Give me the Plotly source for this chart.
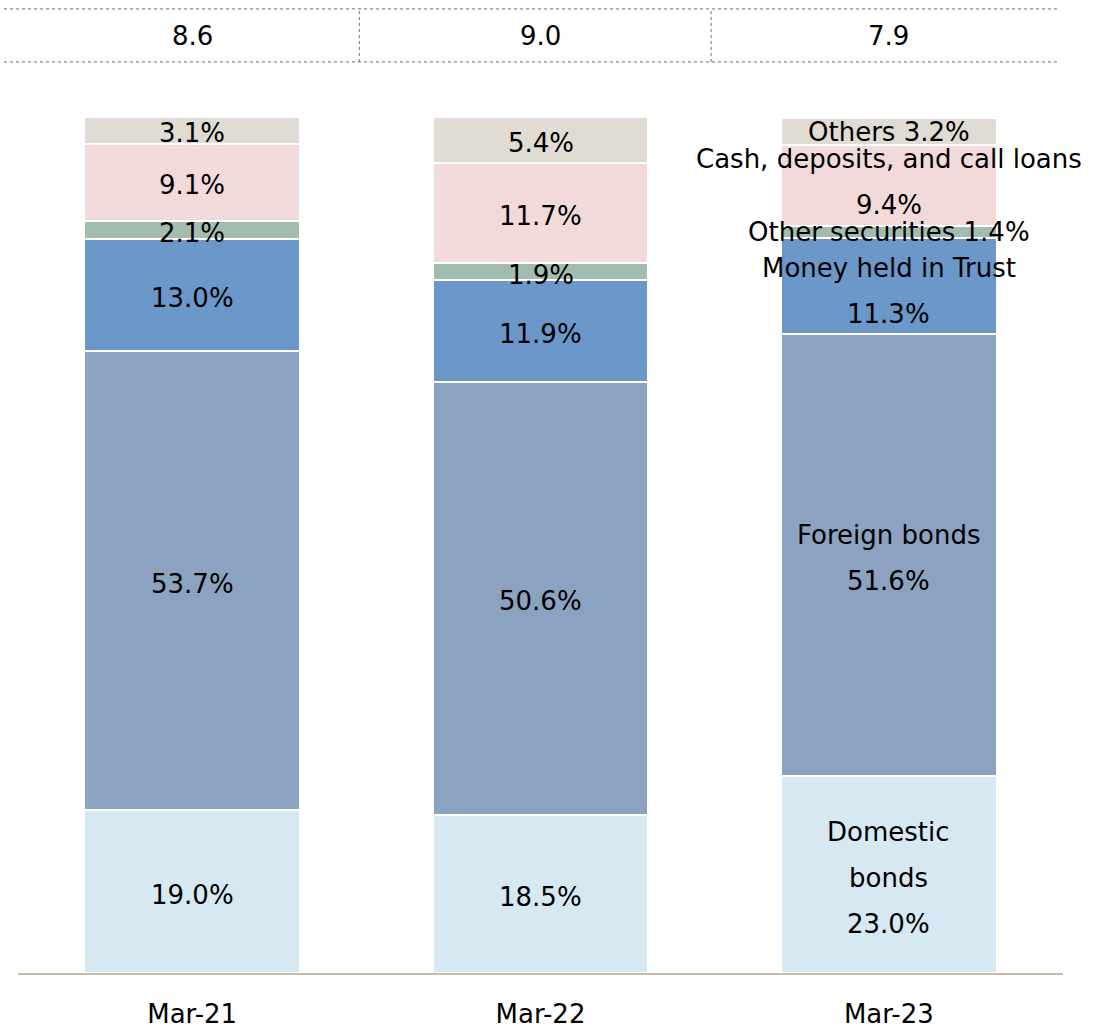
import plotly.graph_objects as go

# Portfolio composition by fiscal year end
periods = ["Mar-21", "Mar-22", "Mar-23"]
totals = [8.6, 9.0, 7.9]

domestic_bonds = [19.0, 18.5, 23.0]
foreign_bonds = [53.7, 50.6, 51.6]
money_in_trust = [13.0, 11.9, 11.3]
other_securities = [2.1, 1.9, 1.4]
cash_deposits = [9.1, 11.7, 9.4]
others = [3.1, 5.4, 3.2]

# Segment names shown next to the latest period's values
series = [
    ("Domestic|bonds", domestic_bonds, "#d6e8f1", True),
    ("Foreign bonds", foreign_bonds, "#8ba3c0", True),
    ("Money held in Trust", money_in_trust, "#6c97c9", True),
    ("Other securities", other_securities, "#a2bdb0", False),
    ("Cash, deposits, and call loans", cash_deposits, "#f2dadb", True),
    ("Others", others, "#e0dcd4", False),
]

# small vertical nudges (px) for the named labels on the last bar
label_nudge = {
    "Money held in Trust": -2,
    "Other securities": 3,
    "Cash, deposits, and call loans": 6,
    "Others": 3,
}

FONT = "DejaVu Sans"
BASE = 26       # label font size
LINE_GAP = 46   # px between lines of a multi-line label

fig = go.Figure()
bottoms = [0.0] * len(periods)
for name, vals, color, multiline in series:
    fig.add_trace(go.Bar(
        x=periods, y=vals, name=name.replace("|", " "),
        marker=dict(color=color, line=dict(color="white", width=2)),
        width=0.62, hoverinfo="skip",
    ))
    # value labels centred on each segment
    for i, v in enumerate(vals):
        pct = f"{v:.1f}%"
        shift = -3
        if i == len(vals) - 1:
            shift += label_nudge.get(name, 0)
            if multiline:
                lines = name.split("|") + [pct]
            else:
                lines = [f"{name} {pct}"]
        else:
            lines = [pct]
        n = len(lines)
        for k, line in enumerate(lines):
            fig.add_annotation(
                x=periods[i], y=bottoms[i] + v / 2, xref="x", yref="y",
                text=line, showarrow=False,
                xanchor="center", yanchor="middle",
                yshift=shift + ((n - 1) / 2 - k) * LINE_GAP,
                font=dict(family=FONT, size=BASE, color="black"))
        bottoms[i] += v

# Header row with totals above each bar
for p, t in zip(periods, totals):
    fig.add_annotation(x=p, xref="x", y=1.0946, yref="paper",
                       xanchor="center", yanchor="middle",
                       text=f"{t:.1f}", showarrow=False,
                       font=dict(family=FONT, size=BASE, color="black"))

dotted = dict(color="#8a8a8a", width=1.2, dash="dot")
for yy in (1.1262, 1.0643):
    fig.add_shape(type="line", xref="paper", yref="paper",
                  x0=-0.0134, x1=0.9943, y0=yy, y1=yy, line=dotted)
for xx in (0.48, 1.49):
    fig.add_shape(type="line", xref="x", yref="paper",
                  x0=xx, x1=xx, y0=1.0643, y1=1.1262, line=dotted)

fig.update_layout(
    barmode="stack",
    width=1099, height=1029,
    margin=dict(l=18, r=36, t=117, b=56),
    paper_bgcolor="white", plot_bgcolor="white",
    showlegend=False,
    font=dict(family=FONT, size=BASE, color="black"),
    xaxis=dict(showline=True, linecolor="#c6bcac", linewidth=2,
               showgrid=False, ticks="", ticklabelstandoff=17,
               automargin=False,
               tickfont=dict(family=FONT, size=BASE, color="black"),
               range=[-0.5, 2.5]),
    yaxis=dict(range=[0, 100], visible=False, showgrid=False,
               automargin=False),
)

fig.write_html("out.html")
